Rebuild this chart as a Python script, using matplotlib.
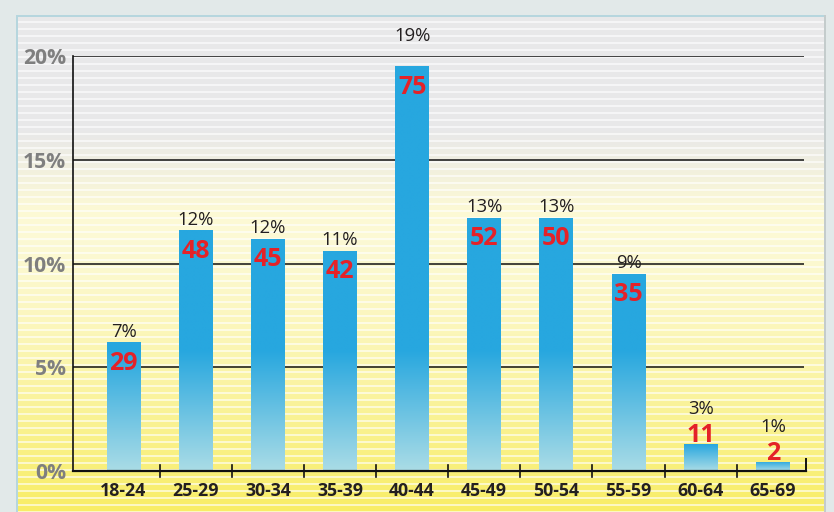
import numpy as np
import matplotlib
matplotlib.use("Agg")
import matplotlib.pyplot as plt

# ---- data ----
age_groups = ["18-24", "25-29", "30-34", "35-39", "40-44",
              "45-49", "50-54", "55-59", "60-64", "65-69"]
share_pct = [6.2, 11.6, 11.2, 10.6, 19.5, 12.2, 12.2, 9.5, 1.3, 0.45]   # bar heights (%)
pct_labels = [7, 12, 12, 11, 19, 13, 13, 9, 3, 1]                        # printed percentages
counts = [29, 48, 45, 42, 75, 52, 50, 35, 11, 2]                         # red counts
y_ticks = [0, 5, 10, 15, 20]

W, H = 834, 512
fig = plt.figure(figsize=(W / 100, H / 100), dpi=100)

# ---- background (decorative) ----
bg_ax = fig.add_axes([0, 0, 1, 1], zorder=-10)
bg_ax.set_axis_off()
yy = np.arange(H)[:, None].astype(float)
xx = np.arange(W)[None, :].astype(float)
grey = np.array([232, 232, 233]) / 255
cream = np.array([252, 249, 212]) / 255
yellow = np.array([248, 237, 100]) / 255
t1 = np.clip((yy - 130) / 80, 0, 1)
t2 = np.clip((yy - 240) / 272, 0, 1) ** 1.3
col = grey[None, None, :] * (1 - t1[..., None]) + cream[None, None, :] * t1[..., None]
col = col * (1 - t2[..., None]) + yellow[None, None, :] * t2[..., None]
img = np.broadcast_to(col, (H, W, 3)).copy()
# stripes
stripe = ((yy.astype(int) % 7) < 2).astype(float)[..., None]
img = img * (1 - 0.6 * stripe) + 0.6 * stripe * np.ones(3)
img = np.broadcast_to(img, (H, W, 3)).copy()
# outside frame
outer = np.array([226, 233, 233]) / 255
mask_out = (xx < 16) | (yy < 15) | (xx > 825)
mask_out = np.broadcast_to(mask_out, (H, W))
img[mask_out] = outer
edge = np.array([182, 214, 222]) / 255
img[15:17, 16:826] = edge
img[15:, 16:18] = edge
img[15:, 824:826] = np.array([196, 204, 204]) / 255
bg_ax.imshow(img, extent=[0, 1, 0, 1], aspect="auto", interpolation="nearest")
bg_ax.set_xlim(0, 1)
bg_ax.set_ylim(0, 1)

# ---- main axes ----
left = 73 / W
right = 806 / W
bottom = 1 - 471 / H
top = 1 - 56 / H
ax = fig.add_axes([left, bottom, right - left, top - bottom])
ax.patch.set_alpha(0)

x = np.arange(len(age_groups))
width = 0.47
solid = np.array([39, 167, 223]) / 255
light = np.array([170, 220, 230]) / 255

bars = ax.bar(x, share_pct, width=width, color=solid, zorder=3, linewidth=0)
for b, h in zip(bars, share_pct):
    n = 200
    v = np.linspace(0, h, n)
    ramp = min(h, 5.8)
    t = np.clip(v / ramp, 0, 1)[:, None]
    g = light[None, :] * (1 - t) + solid[None, :] * t
    g = g[:, None, :]
    im = ax.imshow(g, extent=[b.get_x(), b.get_x() + b.get_width(), b.get_y(), b.get_y() + h],
                   origin="lower", aspect="auto", zorder=3.5, interpolation="bilinear")
    im.set_clip_path(b)

ax.set_xlim(-0.70, 9.46)
ax.set_ylim(0, 20)

# grid lines
for yt in y_ticks[1:]:
    ax.plot([-0.70, 9.43], [yt, yt], color="#111111", lw=1.1, zorder=2, solid_capstyle="butt")

for s in ["top", "right"]:
    ax.spines[s].set_visible(False)
ax.spines["left"].set_color("#111111")
ax.spines["left"].set_linewidth(1.2)
ax.spines["bottom"].set_color("#111111")
ax.spines["bottom"].set_linewidth(1.6)
ax.spines["bottom"].set_zorder(5)

ax.set_yticks(y_ticks)
ax.set_yticklabels([f"{v}%" for v in y_ticks], fontsize=15.2, fontweight="bold",
                   color="#7f7f7f", family="Open Sans")
ax.tick_params(axis="y", length=0, pad=5)

ax.set_xticks(x)
ax.set_xticklabels(age_groups, fontsize=12.8, fontweight="bold", color="#231f20",
                   family="Open Sans")
ax.tick_params(axis="x", length=0, pad=8)

# separator ticks on x axis
for i in range(len(age_groups)):
    xs = i + 0.5
    if i == len(age_groups) - 1:
        xs = 9.46
        ax.plot([xs, xs], [0, 0.6], color="#111111", lw=1.4, clip_on=False, zorder=5)
    else:
        ax.plot([xs, xs], [-0.3, 0.3], color="#111111", lw=1.2, clip_on=False, zorder=5)

# labels
for i, (h, p, c) in enumerate(zip(share_pct, pct_labels, counts)):
    if h < 3:
        ax.annotate(str(c), (i, h), xytext=(0, 1.5), textcoords="offset points",
                    ha="center", va="baseline", fontsize=18, fontweight="bold",
                    color="#e42228", family="Open Sans", zorder=6)
        ax.annotate(f"{p}%", (i, h), xytext=(0, 21.5), textcoords="offset points",
                    ha="center", va="baseline", fontsize=13.3, color="#231f20",
                    family="Open Sans", zorder=6)
    else:
        ax.annotate(str(c), (i, h), xytext=(0, -6), textcoords="offset points",
                    ha="center", va="top", fontsize=18, fontweight="bold",
                    color="#e42228", family="Open Sans", zorder=6)
        yl = h if h < 19 else 20.5
        off = 4 if h < 19 else 3
        ax.annotate(f"{p}%", (i, yl), xytext=(0, off), textcoords="offset points",
                    ha="center", va="baseline", fontsize=13.3, color="#231f20",
                    family="Open Sans", zorder=6, annotation_clip=False)

fig.savefig("out.png", dpi=100)
